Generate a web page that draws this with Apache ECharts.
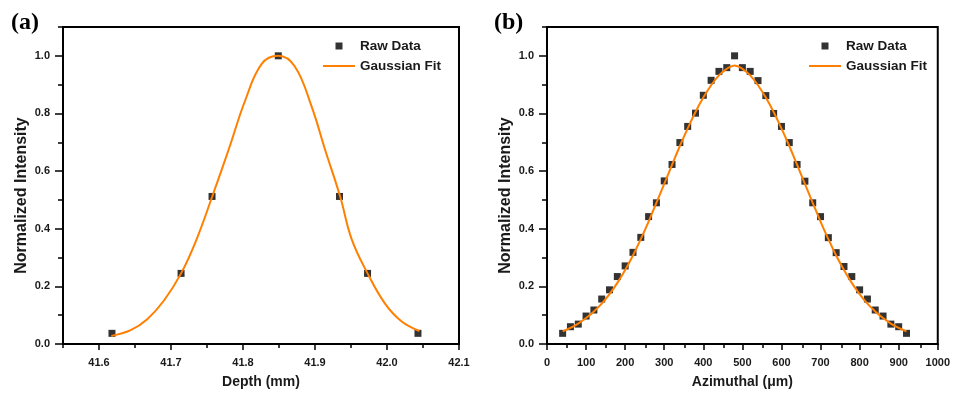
<!DOCTYPE html>
<html><head><meta charset="utf-8">
<script src="https://cdn.jsdelivr.net/npm/echarts@6/dist/echarts.min.js"></script>
<style>html,body{margin:0;padding:0;background:#fff}#c{width:953px;height:394px}</style>
</head><body><div id="c"></div>
<script>
// ---------- Panel (a): Depth ----------
const depthRawX = [41.618, 41.714, 41.757, 41.849, 41.934, 41.973, 42.043];
const depthRawY = [0.037, 0.245, 0.512, 1.0, 0.512, 0.245, 0.037];
const depthFitX = [41.617, 41.644, 41.667, 41.690, 41.714, 41.735, 41.757, 41.780, 41.803, 41.826, 41.849, 41.872, 41.895, 41.914, 41.935, 41.951, 41.973, 41.997, 42.020, 42.045];
const depthFitY = [0.028, 0.048, 0.086, 0.150, 0.245, 0.360, 0.510, 0.674, 0.845, 0.972, 1.000, 0.963, 0.826, 0.674, 0.511, 0.363, 0.245, 0.141, 0.079, 0.045];
const depthTicks = [41.6, 41.7, 41.8, 41.9, 42.0, 42.1];
const depthMinor = [41.55, 41.65, 41.75, 41.85, 41.95, 42.05];

// ---------- Panel (b): Azimuthal ----------
const azRawX = [40, 60, 80, 100, 120, 140, 160, 180, 200, 220, 240, 260, 280, 300, 320, 340, 360, 380, 400, 420, 440, 460, 480, 500, 520, 540, 560, 580, 600, 620, 640, 660, 680, 700, 720, 740, 760, 780, 800, 820, 840, 860, 880, 900, 920];
const azRawY = [0.037, 0.060, 0.069, 0.097, 0.118, 0.156, 0.188, 0.234, 0.271, 0.318, 0.370, 0.442, 0.490, 0.566, 0.623, 0.699, 0.755, 0.801, 0.863, 0.915, 0.946, 0.959, 1.000, 0.959, 0.946, 0.914, 0.862, 0.800, 0.755, 0.699, 0.623, 0.565, 0.490, 0.442, 0.369, 0.317, 0.269, 0.234, 0.188, 0.156, 0.118, 0.097, 0.069, 0.060, 0.037];
const azFitX = [40, 60, 80, 100, 120, 140, 160, 180, 200, 220, 240, 260, 280, 300, 320, 340, 360, 380, 400, 420, 440, 460, 480, 500, 520, 540, 560, 580, 600, 620, 640, 660, 680, 700, 720, 740, 760, 780, 800, 820, 840, 860, 880, 900, 920];
const azFitY = [0.044, 0.056, 0.071, 0.090, 0.113, 0.140, 0.173, 0.212, 0.257, 0.307, 0.364, 0.425, 0.490, 0.556, 0.622, 0.687, 0.748, 0.805, 0.855, 0.898, 0.932, 0.955, 0.966, 0.955, 0.932, 0.898, 0.855, 0.805, 0.748, 0.687, 0.622, 0.556, 0.490, 0.425, 0.364, 0.307, 0.257, 0.212, 0.173, 0.140, 0.113, 0.090, 0.071, 0.056, 0.044];
const azTicks = [0, 100, 200, 300, 400, 500, 600, 700, 800, 900, 1000];
const azMinor = [50, 150, 250, 350, 450, 550, 650, 750, 850, 950];

// ---------- shared Y ----------
const yTicks = [0, 0.2, 0.4, 0.6, 0.8, 1.0];
const yMinor = [0.1, 0.3, 0.5, 0.7, 0.9, 1.1];

const seriesNames = ['Raw Data', 'Gaussian Fit'];
const panelLabels = ['(a)', '(b)'];
const xNames = ['Depth (mm)', 'Azimuthal (μm)'];
const yName = 'Normalized Intensity';

const zip = (a, b) => a.map((v, i) => [v, b[i]]);
const FONT = '"Liberation Sans", Arial, sans-serif';
const TXT = '#1a1a1a';
const ORANGE = '#FF7F00';

const gridA = {left: 63, top: 27, width: 396, height: 317};
const gridB = {left: 547, top: 27, width: 393, height: 317};

function mainX(gi, min, max, ticks, name, dec) {
  return {
    type: 'value', gridIndex: gi, min: min, max: max,
    name: name, nameLocation: 'middle', nameGap: 31,
    nameTextStyle: {fontFamily: FONT, fontWeight: 'bold', fontSize: 14, color: TXT},
    axisLine: {show: true, onZero: false, lineStyle: {color: '#000', width: 2}},
    axisTick: {show: true, inside: false, length: 6, lineStyle: {color: '#000', width: 1.5}, customValues: ticks},
    axisLabel: {show: true, margin: 13, fontFamily: FONT, fontWeight: 'bold', fontSize: 11, color: TXT,
      customValues: ticks, formatter: v => Number(v).toFixed(dec)},
    splitLine: {show: false}
  };
}
function minorX(gi, min, max, ticks) {
  return {
    type: 'value', gridIndex: gi, min: min, max: max,
    axisLine: {show: false, onZero: false},
    axisTick: {show: true, inside: false, length: 4, lineStyle: {color: '#000', width: 1.5}, customValues: ticks},
    axisLabel: {show: false}, splitLine: {show: false}
  };
}
function mainY(gi) {
  return {
    type: 'value', gridIndex: gi, min: 0, max: 1.1,
    name: yName, nameLocation: 'middle', nameGap: 33,
    nameTextStyle: {fontFamily: FONT, fontWeight: 'bold', fontSize: 16, color: TXT, padding: [0, 20, 0, 0]},
    axisLine: {show: true, onZero: false, lineStyle: {color: '#000', width: 2}},
    axisTick: {show: true, inside: false, length: 8, lineStyle: {color: '#000', width: 1.5}, customValues: yTicks},
    axisLabel: {show: true, margin: 13, fontFamily: FONT, fontWeight: 'bold', fontSize: 11, color: TXT,
      customValues: yTicks, formatter: v => Number(v).toFixed(1)},
    splitLine: {show: false}
  };
}
function minorY(gi) {
  return {
    type: 'value', gridIndex: gi, min: 0, max: 1.1,
    axisLine: {show: false, onZero: false},
    axisTick: {show: true, inside: false, length: 5, lineStyle: {color: '#000', width: 1.5}, customValues: yMinor},
    axisLabel: {show: false}, splitLine: {show: false}
  };
}
function legendAt(left) {
  return {
    left: left, top: 39, orient: 'vertical', itemWidth: 32, itemHeight: 7, itemGap: 6, padding: 0,
    selectedMode: false, symbolKeepAspect: true,
    data: [
      {name: seriesNames[0], icon: 'path://M0,0L10,0L10,10L0,10Z'},
      {name: seriesNames[1], icon: 'path://M0,0L32,0L32,2L0,2Z'}
    ],
    textStyle: {fontFamily: FONT, fontWeight: 'bold', fontSize: 13.5, color: TXT}
  };
}

const option = {
  animation: false,
  backgroundColor: '#fff',
  grid: [
    Object.assign({show: true, borderColor: '#000', borderWidth: 2, backgroundColor: 'transparent'}, gridA),
    Object.assign({show: false}, gridA),
    Object.assign({show: true, borderColor: '#000', borderWidth: 2, backgroundColor: 'transparent'}, gridB),
    Object.assign({show: false}, gridB)
  ],
  xAxis: [
    mainX(0, 41.55, 42.1, depthTicks, xNames[0], 1),
    minorX(1, 41.55, 42.1, depthMinor),
    mainX(2, 0, 1000, azTicks, xNames[1], 0),
    minorX(3, 0, 1000, azMinor)
  ],
  yAxis: [mainY(0), minorY(1), mainY(2), minorY(3)],
  legend: [legendAt(323), legendAt(809)],
  graphic: [
    {type: 'text', left: 11, top: 11, style: {text: panelLabels[0], font: 'bold 24px "Liberation Serif", "Times New Roman", serif', fill: '#000'}},
    {type: 'text', left: 494, top: 11, style: {text: panelLabels[1], font: 'bold 24px "Liberation Serif", "Times New Roman", serif', fill: '#000'}}
  ],
  series: [
    {name: seriesNames[0], type: 'scatter', xAxisIndex: 0, yAxisIndex: 0, symbol: 'rect', symbolSize: 7,
      itemStyle: {color: '#000'}, z: 2, data: zip(depthRawX, depthRawY)},
    {name: seriesNames[1], type: 'line', xAxisIndex: 0, yAxisIndex: 0, symbol: 'none', smooth: 0.4,
      lineStyle: {color: ORANGE, width: 2}, itemStyle: {color: ORANGE}, z: 3, data: zip(depthFitX, depthFitY)},
    {name: seriesNames[0], type: 'scatter', xAxisIndex: 2, yAxisIndex: 2, symbol: 'rect', symbolSize: 7,
      itemStyle: {color: '#000'}, z: 2, data: zip(azRawX, azRawY)},
    {name: seriesNames[1], type: 'line', xAxisIndex: 2, yAxisIndex: 2, symbol: 'none', smooth: 0.4,
      lineStyle: {color: ORANGE, width: 2}, itemStyle: {color: ORANGE}, z: 3, data: zip(azFitX, azFitY)}
  ]
};
const chart = echarts.init(document.getElementById('c'), null, {renderer: 'canvas'});
chart.setOption(option);
</script></body></html>
